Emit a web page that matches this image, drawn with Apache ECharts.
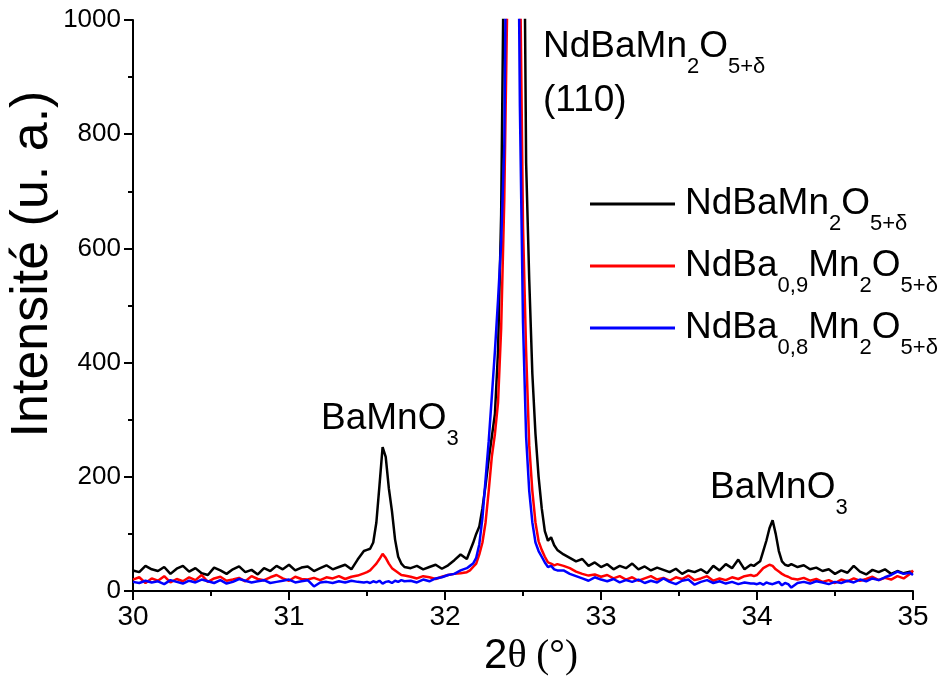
<!DOCTYPE html>
<html>
<head>
<meta charset="utf-8">
<script src="https://cdn.jsdelivr.net/npm/echarts@6/dist/echarts.min.js"></script>
<style>
  html, body { margin: 0; padding: 0; background: #ffffff; }
  #chart { width: 948px; height: 680px; }
</style>
</head>
<body>
<div id="chart"></div>
<script>
// 2θ positions (degrees)
const twoTheta = [
  30.00,30.04,30.08,30.12,30.16,30.20,30.24,30.28,30.32,30.36,30.40,30.44,30.48,30.52,30.56,30.60,30.64,30.68,30.72,30.76,
  30.80,30.84,30.88,30.92,30.96,31.00,31.04,31.08,31.12,31.16,31.20,31.24,31.28,31.32,31.36,31.40,31.44,31.48,
  31.50,31.52,31.54,31.56,31.58,31.60,31.62,31.64,31.66,31.68,31.70,31.72,31.74,
  31.78,31.82,31.86,31.90,31.94,31.98,32.02,32.06,32.10,32.14,
  32.16,32.18,32.20,32.22,32.24,32.26,32.28,32.30,32.32,32.34,32.36,32.38,32.40,32.42,32.44,32.46,32.48,32.50,32.52,32.54,
  32.56,32.58,32.60,32.62,32.64,32.66,32.68,32.70,32.72,
  32.76,32.80,32.84,32.88,32.92,32.96,33.00,33.04,33.08,33.12,33.16,33.20,33.24,33.28,33.32,33.36,33.40,33.44,33.48,33.52,
  33.56,33.60,33.64,33.68,33.72,33.76,33.80,33.84,33.88,33.92,33.96,
  33.98,34.00,34.02,34.04,34.06,34.08,34.10,34.12,34.14,34.16,34.18,34.20,34.22,
  34.26,34.30,34.34,34.38,34.42,34.46,34.50,34.54,34.58,34.62,34.66,34.70,34.74,34.78,34.82,34.86,34.90,34.94,34.98,35.00
];

// NdBaMn2O5+δ
const intensityBa10 = [
  36,33,44,38,35,42,30,39,44,34,40,31,28,41,36,30,38,43,33,37,
  29,40,35,44,38,46,36,41,43,35,40,45,38,42,46,38,55,70,
  72,74,85,120,185,252,235,180,140,90,60,48,42,
  40,44,38,42,46,39,45,54,64,56,
  70,84,100,113,145,185,230,270,310,420,660,1200,2400,3400,3800,3300,2300,1460,750,545,
  380,275,200,145,105,88,94,80,72,
  64,58,52,56,44,50,42,47,38,44,40,48,38,43,36,41,37,33,39,30,
  36,33,38,31,44,36,47,40,55,38,46,
  44,48,52,70,88,110,124,100,70,52,46,44,47,
  42,45,38,41,35,38,30,36,32,44,34,29,37,33,38,30,35,31,34,32
];

// NdBa0,9Mn2O5+δ
const intensityBa09 = [
  20,24,14,22,18,26,15,21,17,24,19,28,16,22,25,18,20,23,17,26,
  21,19,24,28,22,18,25,21,20,23,19,24,22,26,21,25,27,31,
  33,36,42,48,56,65,58,48,40,36,32,28,27,
  25,22,26,24,21,25,28,30,31,33,
  36,42,48,64,85,120,175,235,275,330,460,685,1050,2200,3000,2300,1120,640,420,255,
  175,120,87,72,60,50,48,45,47,
  44,40,34,30,27,29,25,28,22,26,20,24,18,22,26,20,23,18,24,21,
  27,19,22,26,18,22,19,24,21,26,28,
  26,28,34,40,43,46,44,38,34,30,27,25,22,
  20,23,18,21,16,19,14,20,17,22,18,21,25,19,23,20,26,22,30,36
];

// NdBa0,8Mn2O5+δ
const intensityBa08 = [
  16,14,18,15,17,12,19,16,13,18,15,20,17,14,19,13,16,21,18,15,
  17,19,14,16,18,20,15,17,19,8,15,16,14,17,15,18,16,15,
  16,14,17,15,18,13,16,17,14,18,16,19,17,
  18,15,20,17,22,24,28,30,36,40,
  44,48,58,82,128,195,262,340,420,510,610,780,1400,2500,3000,1500,850,470,270,175,
  120,85,70,60,50,42,44,38,36,
  36,30,26,22,18,24,20,17,21,15,19,16,20,14,18,15,22,16,12,18,
  20,11,16,19,14,17,13,16,12,15,13,
  13,12,14,11,15,13,12,14,16,10,14,12,6,
  14,16,13,17,15,12,16,14,18,15,20,17,22,19,24,28,34,30,32,28
];

const seriesNames = ['NdBaMn2O5+δ', 'NdBa0,9Mn2O5+δ', 'NdBa0,8Mn2O5+δ'];
const seriesColors = ['#000000', '#ff0000', '#0000ff'];
const xTickValues = [30, 31, 32, 33, 34, 35];
const yTickValues = [0, 200, 400, 600, 800, 1000];
const yAxisTitle = 'Intensité (u. a.)';

const FONT = 'Liberation Sans, Arial, sans-serif';
const SERIF = 'Liberation Serif, Times New Roman, serif';

function pairs(ys) { return twoTheta.map((x, i) => [x, ys[i]]); }

const richStyles = {
  m: { fontFamily: FONT, fontSize: 37, color: '#000', lineHeight: 44 },
  s: { fontFamily: FONT, fontSize: 22, color: '#000', lineHeight: 44, padding: [40, 0, 0, 0] }
};

const legendRich = {
  'NdBaMn2O5+δ': '{m|NdBaMn}{s|2}{m|O}{s|5+δ}',
  'NdBa0,9Mn2O5+δ': '{m|NdBa}{s|0,9}{m|Mn}{s|2}{m|O}{s|5+δ}',
  'NdBa0,8Mn2O5+δ': '{m|NdBa}{s|0,8}{m|Mn}{s|2}{m|O}{s|5+δ}'
};

const chart = echarts.init(document.getElementById('chart'), null, { renderer: 'canvas' });

const option = {
  backgroundColor: '#ffffff',
  animation: false,
  grid: { left: 133, right: 35, top: 20, bottom: 89, containLabel: false, outerBoundsMode: 'none' },
  xAxis: {
    type: 'value',
    min: 30, max: 35, interval: 1,
    name: '{a|2}{b|θ}{c| (°)}',
    nameLocation: 'middle',
    nameGap: 40,
    nameTextStyle: {
      padding: [0, 0, 0, 16],
      rich: {
        a: { fontFamily: FONT, fontSize: 42, color: '#000', lineHeight: 46 },
        b: { fontFamily: SERIF, fontSize: 40, color: '#000', lineHeight: 46 },
        c: { fontFamily: SERIF, fontSize: 39, color: '#000', lineHeight: 46 }
      }
    },
    axisLine: { show: true, onZero: false, lineStyle: { color: '#000', width: 2 } },
    axisTick: { show: true, inside: false, length: 9, lineStyle: { color: '#000', width: 2 } },
    minorTick: { show: true, splitNumber: 2, length: 5, lineStyle: { color: '#000', width: 2 } },
    splitLine: { show: false },
    axisLabel: {
      color: '#000', fontFamily: FONT, fontSize: 28, margin: 12,
      formatter: v => (xTickValues.indexOf(v) >= 0 ? String(v) : '')
    }
  },
  yAxis: {
    type: 'value',
    min: 0, max: 1000, interval: 200,
    axisLine: { show: true, onZero: false, lineStyle: { color: '#000', width: 2 } },
    axisTick: { show: true, inside: false, length: 9, lineStyle: { color: '#000', width: 2 } },
    minorTick: { show: true, splitNumber: 2, length: 5, lineStyle: { color: '#000', width: 2 } },
    splitLine: { show: false },
    axisLabel: {
      color: '#000', fontFamily: FONT, fontSize: 26, margin: 12,
      formatter: v => (yTickValues.indexOf(v) >= 0 ? String(v) : '')
    }
  },
  legend: {
    show: true,
    orient: 'vertical',
    left: 590,
    top: 173,
    padding: 0,
    itemWidth: 85,
    itemHeight: 3,
    itemGap: 0,
    icon: 'rect',
    data: seriesNames,
    formatter: name => legendRich[name],
    textStyle: { rich: richStyles, padding: [0, 0, 0, 5] }
  },
  series: seriesNames.map((name, i) => ({
    name: name,
    type: 'line',
    data: pairs([intensityBa10, intensityBa09, intensityBa08][i]),
    showSymbol: false,
    symbol: 'none',
    clip: true,
    lineStyle: { color: seriesColors[i], width: 2.5 },
    itemStyle: { color: seriesColors[i] },
    emphasis: { disabled: true },
    z: 2 + i
  })),
  graphic: [
    {
      type: 'text', x: 33, y: 264, rotation: Math.PI / 2,
      style: {
        text: yAxisTitle, fontFamily: FONT, fontSize: 52, fill: '#000',
        align: 'center', verticalAlign: 'middle'
      }
    },
    {
      type: 'text', left: 321, top: 388,
      style: { text: '{m|BaMnO}{s|3}', rich: richStyles }
    },
    {
      type: 'text', left: 710, top: 457,
      style: { text: '{m|BaMnO}{s|3}', rich: richStyles }
    },
    {
      type: 'text', left: 543, top: 16,
      style: { text: '{m|NdBaMn}{s|2}{m|O}{s|5+δ}', rich: richStyles }
    },
    {
      type: 'text', left: 543, top: 82,
      style: { text: '{m|(110)}', rich: richStyles }
    }
  ]
};

chart.setOption(option);
</script>
</body>
</html>
